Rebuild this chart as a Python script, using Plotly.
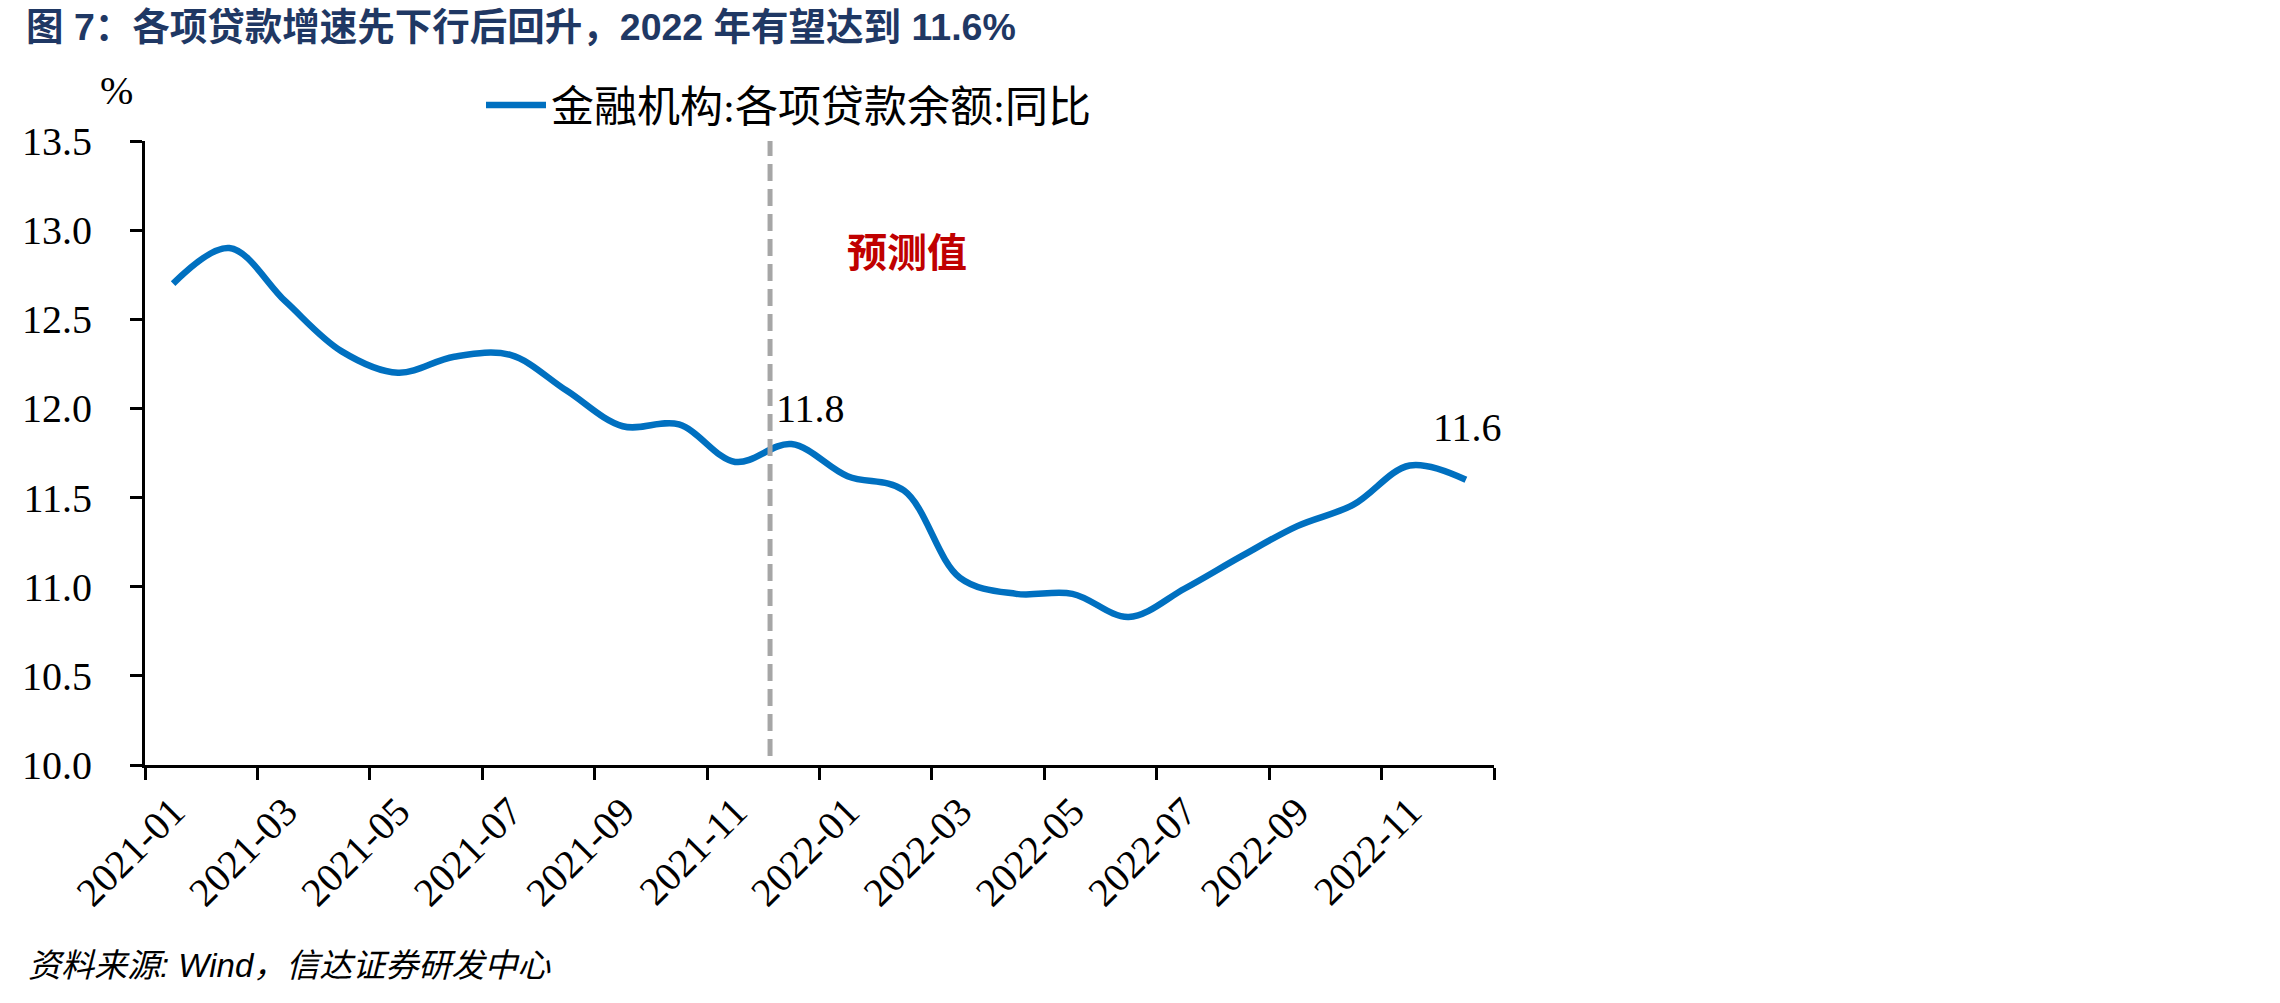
import plotly.graph_objects as go

# ---------------- data ----------------
months = ["2021-01", "2021-02", "2021-03", "2021-04", "2021-05", "2021-06",
          "2021-07", "2021-08", "2021-09", "2021-10", "2021-11", "2021-12",
          "2022-01", "2022-02", "2022-03", "2022-04", "2022-05", "2022-06",
          "2022-07", "2022-08", "2022-09", "2022-10", "2022-11", "2022-12"]
loan_yoy = [12.70, 12.90, 12.60, 12.32, 12.20, 12.29,
            12.30, 12.10, 11.90, 11.91, 11.70, 11.80,
            11.62, 11.54, 11.05, 10.96, 10.96, 10.83,
            10.99, 11.17, 11.34, 11.46, 11.68, 11.60]
series_name = "金融机构:各项贷款余额:同比"
y_ticks = [10.0, 10.5, 11.0, 11.5, 12.0, 12.5, 13.0, 13.5]
forecast_start = 10.62          # position of the forecast divider (category index)
labelled = {11: "11.8", 23: "11.6"}

# ---------------- style ----------------
W, H = 2280, 1003
L, R, T, B = 145, 1494, 141, 765
SERIF = "Times New Roman, Liberation Serif, Noto Sans CJK SC"
SANS = "Liberation Sans, Noto Sans CJK SC"

xs = list(range(len(months)))

fig = go.Figure()
fig.add_trace(go.Scatter(
    x=xs, y=loan_yoy, mode="lines", name=series_name,
    line=dict(color="#0070C0", width=6.5, shape="spline", smoothing=1.0),
))

fig.update_layout(
    width=W, height=H,
    margin=dict(l=L, r=W - R, t=T, b=H - B, pad=0),
    paper_bgcolor="white", plot_bgcolor="white",
    font=dict(family=SERIF, size=40, color="black"),
    showlegend=True,
    legend=dict(
        x=(481 - L) / (R - L), y=(B - 105) / (B - T),
        xanchor="left", yanchor="middle", orientation="h",
        font=dict(family=SERIF, size=43, color="black"),
        bgcolor="rgba(0,0,0,0)", itemwidth=60,
    ),
    title=dict(
        text="<b>图 7：各项贷款增速先下行后回升，2022 年有望达到 11.6%</b>",
        font=dict(family=SANS, size=37.5, color="#1F3864"),
        xref="container", yref="container",
        x=26 / W, y=1 - 27 / H, xanchor="left", yanchor="middle",
    ),
)

fig.update_xaxes(
    range=[-0.5, len(months) - 0.5],
    tickmode="array", tickvals=xs[::2], ticktext=months[::2],
    tickangle=-45, ticks="", showgrid=False, zeroline=False,
    showline=True, linecolor="black", linewidth=3,
    tickfont=dict(family=SERIF, size=40, color="black"),
    minor=dict(tickmode="array",
               tickvals=[i - 0.5 for i in range(0, len(months) + 1, 2)],
               ticks="outside", ticklen=12, tickwidth=3, tickcolor="black",
               showgrid=False),
    ticklabelstandoff=4,
)
fig.update_yaxes(
    range=[y_ticks[0], y_ticks[-1]],
    tickmode="array", tickvals=y_ticks, ticktext=[f"{v:.1f}" for v in y_ticks],
    ticks="outside", ticklen=12, tickwidth=3, tickcolor="black",
    showline=True, linecolor="black", linewidth=3,
    showgrid=False, zeroline=False,
    tickfont=dict(family=SERIF, size=40, color="black"),
    ticklabelstandoff=30,
)

# forecast divider
fig.add_shape(type="line", xref="x", yref="y",
              x0=forecast_start, x1=forecast_start, y0=10.05, y1=y_ticks[-1],
              line=dict(color="#A6A6A6", width=5, dash="17px,8px"))

# data labels
shifts = {11: (19, 36), 23: (2, 52)}
for i, txt in labelled.items():
    dx, dy = shifts[i]
    fig.add_annotation(x=xs[i], y=loan_yoy[i], xref="x", yref="y", text=txt,
                       showarrow=False, xshift=dx, yshift=dy,
                       font=dict(family=SERIF, size=40, color="black"),
                       xanchor="center", yanchor="middle")

# forecast label
fig.add_annotation(x=(907 - L) / (R - L), y=(B - 253) / (B - T), xref="paper", yref="paper",
                   text="<b>预测值</b>", showarrow=False,
                   font=dict(family=SERIF, size=40, color="#C00000"),
                   xanchor="center", yanchor="middle")

# unit label
fig.add_annotation(x=(116 - L) / (R - L), y=(B - 90) / (B - T), xref="paper", yref="paper",
                   text="%", showarrow=False,
                   font=dict(family=SERIF, size=40, color="black"),
                   xanchor="center", yanchor="middle")

# source note
fig.add_annotation(x=(26 - L) / (R - L), y=(B - 965) / (B - T), xref="paper", yref="paper",
                   text="<i>资料来源: Wind，信达证券研发中心</i>", showarrow=False,
                   font=dict(family=SANS, size=33, color="black"),
                   xanchor="left", yanchor="middle")

fig.write_html("out.html")
